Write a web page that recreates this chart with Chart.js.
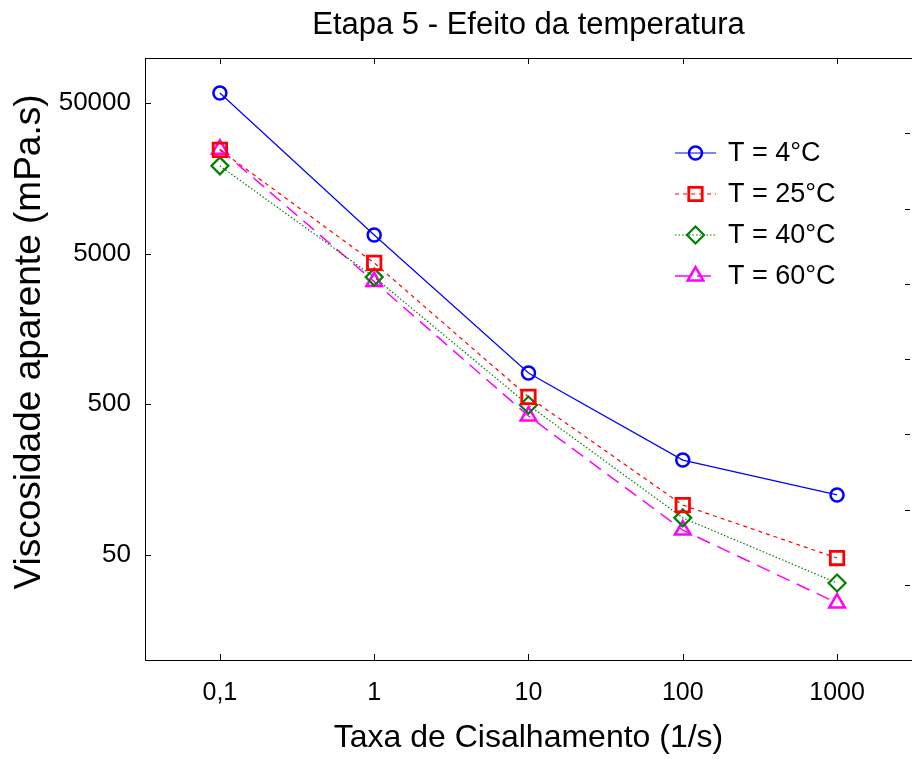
<!DOCTYPE html>
<html>
<head>
<meta charset="utf-8">
<title>Etapa 5 - Efeito da temperatura</title>
<script src="https://cdn.jsdelivr.net/npm/chart.js@4.4.0/dist/chart.umd.min.js"></script>
<style>
  body { margin: 0; background: #fff; }
  canvas { display: block; }
</style>
</head>
<body>
<canvas id="grafico" width="912" height="759"></canvas>
<script>
// taxa de cisalhamento (1/s)
var taxas = [0.1, 1, 10, 100, 1000];
// viscosidade aparente (mPa.s) em cada temperatura
var visc4 = [58500, 6670, 807, 213, 125];
var visc25 = [24500, 4350, 560, 107, 47.6];
var visc40 = [19200, 3500, 494, 88, 32.5];
var visc60 = [24800, 3270, 418, 73, 23.9];
var legendas = ['T = 4°C', 'T = 25°C', 'T = 40°C', 'T = 60°C'];
var yTicks = [50, 500, 5000, 50000];

var fonte = "'Liberation Sans', Arial, sans-serif";
Chart.defaults.font.family = fonte;
Chart.defaults.color = '#000';

function pontos(valores) {
  return taxas.map(function (t, i) { return { x: t, y: valores[i] }; });
}

// moldura, marcas internas dos eixos e titulos
var moldura = {
  id: 'moldura',
  beforeDatasetsDraw: function (chart) {
    var ctx = chart.ctx, a = chart.chartArea;
    var sx = chart.scales.x, sy = chart.scales.y, sy2 = chart.scales.y2;
    ctx.save();
    ctx.strokeStyle = '#000';
    ctx.lineWidth = 1;
    ctx.strokeRect(a.left + 0.5, a.top + 0.5, a.right - a.left, a.bottom - a.top);
    ctx.beginPath();
    sx.ticks.forEach(function (t) {
      var px = Math.round(sx.getPixelForValue(t.value)) + 0.5;
      ctx.moveTo(px, a.bottom); ctx.lineTo(px, a.bottom - 6);
      ctx.moveTo(px, a.top); ctx.lineTo(px, a.top + 6);
    });
    sy.ticks.forEach(function (t) {
      var py = Math.round(sy.getPixelForValue(t.value)) + 0.5;
      ctx.moveTo(a.left, py); ctx.lineTo(a.left + 6, py);
    });
    sy2.ticks.forEach(function (t) {
      var py = Math.round(sy2.getPixelForValue(t.value)) + 0.5;
      ctx.moveTo(a.right - 7, py); ctx.lineTo(a.right - 2, py);
    });
    ctx.stroke();

    ctx.fillStyle = '#000';
    ctx.textAlign = 'center';
    ctx.textBaseline = 'middle';
    ctx.font = '31px ' + fonte;
    ctx.fillText('Etapa 5 - Efeito da temperatura', (a.left + a.right) / 2, 25);

    ctx.translate(30, 342);
    ctx.rotate(-Math.PI / 2);
    ctx.font = '37px ' + fonte;
    ctx.fillText('Viscosidade aparente (mPa.s)', 0, 0);
    ctx.restore();
  }
};

// legenda com linha e marcador
var legenda = {
  id: 'legenda',
  afterDraw: function (chart) {
    var ctx = chart.ctx;
    chart.data.datasets.forEach(function (ds, i) {
      var y = 153 + i * 41;
      ctx.save();
      ctx.strokeStyle = ds.borderColor;
      ctx.lineWidth = ds.borderWidth;
      ctx.setLineDash(ds.borderDash || []);
      ctx.beginPath();
      ctx.moveTo(675, y);
      ctx.lineTo(716, y);
      ctx.stroke();
      ctx.setLineDash([]);
      ctx.lineWidth = ds.pointBorderWidth;
      ctx.fillStyle = 'rgba(0,0,0,0)';
      Chart.helpers.drawPoint(ctx, {
        pointStyle: ds.pointStyle, radius: ds.pointRadius,
        rotation: 0, borderWidth: ds.pointBorderWidth
      }, 695.5, y);
      ctx.fillStyle = '#000';
      ctx.font = '27px ' + fonte;
      ctx.textAlign = 'left';
      ctx.textBaseline = 'middle';
      ctx.fillText(ds.label, 728, y + 1);
      ctx.restore();
    });
  }
};

new Chart(document.getElementById('grafico'), {
  type: 'line',
  data: {
    datasets: [
      {
        label: legendas[0], data: pontos(visc4),
        borderColor: '#0000ff', borderWidth: 1.2,
        pointStyle: 'circle', pointRadius: 6.5, pointBorderWidth: 2.5,
        pointBorderColor: '#0000ff', pointBackgroundColor: 'rgba(0,0,0,0)'
      },
      {
        label: legendas[1], data: pontos(visc25),
        borderColor: '#ff0000', borderWidth: 1.2, borderDash: [4, 4],
        pointStyle: 'rect', pointRadius: 9.5, pointBorderWidth: 2.8,
        pointBorderColor: '#ff0000', pointBackgroundColor: 'rgba(0,0,0,0)'
      },
      {
        label: legendas[2], data: pontos(visc40),
        borderColor: '#008000', borderWidth: 1.2, borderDash: [1.5, 2],
        pointStyle: 'rectRot', pointRadius: 8.5, pointBorderWidth: 2.2,
        pointBorderColor: '#008000', pointBackgroundColor: 'rgba(0,0,0,0)'
      },
      {
        label: legendas[3], data: pontos(visc60),
        borderColor: '#ff00ff', borderWidth: 1.5, borderDash: [14, 8],
        pointStyle: 'triangle', pointRadius: 9, pointBorderWidth: 2.5,
        pointBorderColor: '#ff00ff', pointBackgroundColor: 'rgba(0,0,0,0)'
      }
    ]
  },
  options: {
    responsive: false,
    devicePixelRatio: 1,
    animation: false,
    events: [],
    layout: { autoPadding: false, padding: { top: 58, left: 0, right: 0, bottom: 0 } },
    plugins: {
      legend: { display: false },
      title: { display: false },
      tooltip: { enabled: false }
    },
    scales: {
      x: {
        type: 'logarithmic', min: 0.0327, max: 3060,
        afterBuildTicks: function (s) { s.ticks = taxas.map(function (v) { return { value: v }; }); },
        afterFit: function (s) { s.height = 99; s.paddingLeft = 0; s.paddingRight = 0; },
        ticks: {
          callback: function (v) { return String(v).replace('.', ','); },
          font: { size: 25 }, padding: 18, maxRotation: 0, autoSkip: false
        },
        grid: { display: false, drawTicks: false },
        border: { display: false },
        title: {
          display: true, text: 'Taxa de Cisalhamento (1/s)',
          font: { size: 32 }, padding: { top: 0, bottom: 2 }
        }
      },
      y: {
        type: 'logarithmic', min: 10, max: 100000,
        afterBuildTicks: function (s) { s.ticks = yTicks.map(function (v) { return { value: v }; }); },
        afterFit: function (s) { s.width = 145; s.paddingTop = 0; s.paddingBottom = 0; },
        ticks: {
          callback: function (v) { return String(v); },
          font: { size: 26 }, padding: 14, autoSkip: false
        },
        grid: { display: false, drawTicks: false },
        border: { display: false }
      },
      y2: {
        type: 'linear', position: 'right', min: 0, max: 8,
        afterFit: function (s) { s.width = 0; s.paddingTop = 0; s.paddingBottom = 0; },
        ticks: { display: false, stepSize: 1 },
        grid: { display: false, drawTicks: false },
        border: { display: false }
      }
    }
  },
  plugins: [moldura, legenda]
});
</script>
</body>
</html>
